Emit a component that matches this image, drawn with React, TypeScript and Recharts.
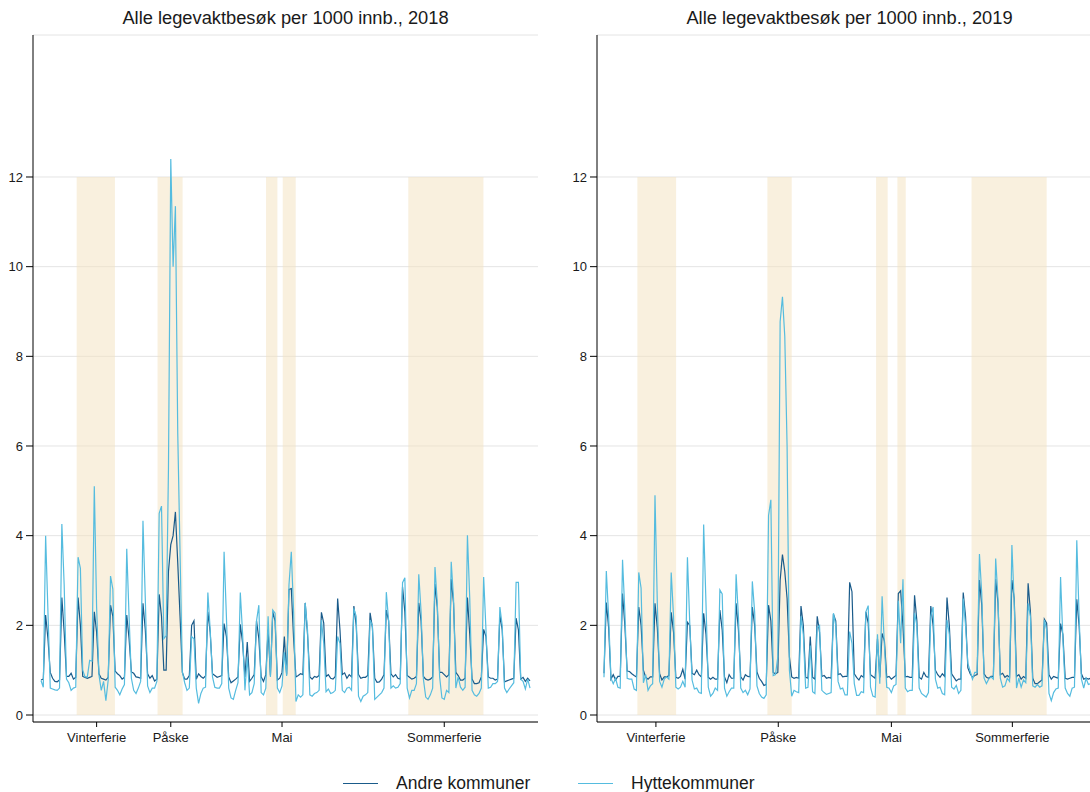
import React from 'react';
import { LineChart, Line, XAxis, YAxis, CartesianGrid, ReferenceArea } from 'recharts';

// Daily values, Feb 1 - Aug 31
const andre2018 = [
  0.78, 0.8, 2.23, 1.7, 0.95, 0.82, 0.75,
  0.74, 0.78, 2.62, 1.85, 0.86, 0.86, 0.93,
  0.8, 0.84, 2.62, 2.0, 0.86, 0.84, 0.82,
  0.84, 0.86, 2.3, 1.85, 0.92, 0.82, 0.8,
  0.78, 0.84, 2.45, 2.2, 0.98, 0.92, 0.88,
  0.8, 0.84, 2.23, 1.7, 0.96, 0.93, 0.85,
  0.84, 0.82, 2.49, 1.9, 0.92, 0.82, 0.88,
  0.76, 0.8, 2.69, 2.2, 1.0, 1.0, 3.2,
  3.8, 4.0, 4.53, 3.4, 2.2, 0.95, 0.8,
  0.8, 0.88, 2.0, 2.1, 0.8, 0.92, 0.86,
  0.82, 0.87, 2.3, 1.85, 0.92, 0.88, 0.84,
  0.86, 0.88, 2.04, 1.75, 0.85, 0.72, 0.76,
  0.8, 0.85, 2.02, 1.6, 0.85, 1.63, 0.75,
  0.82, 0.9, 2.1, 1.7, 0.85, 0.75, 0.9,
  1.9, 0.88, 2.3, 2.1, 0.78, 0.82, 0.95,
  1.75, 0.9, 2.8, 2.82, 1.7, 0.85, 0.88,
  0.92, 0.9, 2.5, 1.8, 0.85, 0.8, 0.86,
  0.84, 0.88, 2.29, 2.05, 0.86, 0.9, 0.82,
  0.8, 0.86, 2.6, 1.9, 0.9, 0.94, 0.82,
  0.9, 0.85, 2.43, 2.0, 0.9, 0.82, 0.84,
  0.84, 0.88, 2.28, 1.95, 0.82, 0.73, 0.74,
  0.8, 0.9, 2.34, 2.1, 0.92, 0.85, 0.9,
  0.82, 0.8, 2.86, 2.3, 0.88, 0.84, 0.8,
  0.82, 0.86, 2.5, 2.1, 0.86, 0.8, 0.78,
  0.8, 0.85, 2.92, 2.4, 0.95, 0.95, 0.9,
  0.85, 0.9, 3.03, 2.5, 0.95, 0.88, 0.78,
  0.78, 0.82, 2.62, 1.8, 0.8, 0.7, 0.7,
  0.72, 0.85, 1.91, 1.75, 0.85, 0.82, 0.82,
  0.78, 0.8, 2.23, 1.9, 0.74, 0.76, 0.78,
  0.8, 0.82, 2.16, 1.9, 0.8, 0.84, 0.75,
  0.82, 0.76,
];

const hytte2018 = [
  0.77, 0.62, 4.0, 2.3, 0.6, 0.58, 0.56,
  0.55, 0.6, 4.26, 2.9, 0.8, 0.72, 0.55,
  0.6, 0.62, 3.52, 3.27, 1.0, 0.85, 0.85,
  1.22, 1.2, 5.1, 2.4, 0.9, 0.55, 0.75,
  0.32, 0.78, 3.1, 2.81, 0.62, 0.55, 0.45,
  0.58, 0.68, 3.71, 2.2, 0.82, 0.55, 0.48,
  0.6, 0.75, 4.33, 2.6, 0.65, 0.5, 0.6,
  0.6, 0.75, 4.5, 4.66, 1.7, 1.77, 5.5,
  12.4, 10.0, 11.35, 6.3, 3.6, 0.96, 0.72,
  0.55, 0.6, 1.75, 1.7, 0.6, 0.26, 0.48,
  0.6, 0.62, 2.73, 1.9, 0.85, 0.62, 0.6,
  0.6, 0.7, 3.64, 2.2, 0.6, 0.38, 0.35,
  0.55, 0.72, 2.73, 1.8, 0.55, 1.3, 0.45,
  0.5, 0.7, 2.1, 2.45, 0.5, 0.45, 0.6,
  2.2, 0.85, 2.34, 2.27, 0.6, 0.5, 0.65,
  1.4, 0.87, 2.9, 3.64, 2.3, 0.3, 0.45,
  0.4, 0.45, 2.5, 1.9, 0.45, 0.42, 0.48,
  0.5, 0.55, 2.12, 1.6, 0.52, 0.58, 0.48,
  0.5, 0.55, 1.75, 1.6, 0.55, 0.5, 0.6,
  0.62, 0.55, 2.38, 2.2, 0.42, 0.3, 0.42,
  0.45, 0.5, 2.12, 2.0, 0.35, 0.4, 0.45,
  0.5, 0.6, 2.74, 2.1, 0.6, 0.65, 0.6,
  0.62, 0.7, 2.95, 3.06, 0.6, 0.38, 0.55,
  0.55, 0.7, 3.14, 2.3, 0.8, 0.4, 0.35,
  0.45, 0.6, 3.3, 2.5, 0.85, 0.38, 0.35,
  0.55, 0.5, 3.42, 2.6, 0.6, 0.85, 0.62,
  0.55, 0.62, 4.01, 2.6, 0.55, 0.45, 0.42,
  0.48, 0.6, 3.08, 1.9, 0.6, 0.62, 0.7,
  0.7, 0.75, 2.41, 2.0, 0.6, 0.5, 0.58,
  0.65, 0.72, 2.96, 2.96, 0.8, 0.75, 0.58,
  0.8, 0.6,
];

const andre2019 = [
  0.93, 2.51, 1.95, 0.8, 0.9, 0.78, 0.86,
  0.86, 2.71, 2.0, 0.98, 0.97, 0.92, 0.88,
  0.85, 2.41, 2.0, 1.0, 0.84, 0.8, 0.85,
  0.85, 2.49, 1.95, 0.92, 0.78, 0.85, 0.85,
  0.88, 2.29, 1.85, 0.84, 0.82, 0.86, 1.02,
  0.8, 2.07, 2.0, 0.93, 0.9, 1.0, 0.9,
  0.85, 2.27, 1.8, 0.84, 0.8, 0.84, 0.8,
  0.8, 2.34, 1.9, 0.85, 0.72, 0.9, 0.82,
  0.82, 2.49, 1.9, 0.85, 0.78, 0.9, 0.86,
  0.85, 2.41, 2.0, 0.96, 0.82, 0.75, 0.66,
  0.68, 2.45, 2.1, 0.95, 0.92, 0.95, 3.0,
  3.58, 3.2, 2.6, 1.3, 0.85, 0.82, 0.84,
  0.82, 2.43, 2.0, 0.84, 0.82, 1.75, 0.84,
  0.8, 2.2, 1.85, 0.86, 0.88, 0.82, 0.84,
  0.82, 2.25, 2.1, 0.9, 0.92, 0.85, 0.86,
  0.86, 2.96, 2.75, 0.92, 0.84, 0.78, 0.88,
  0.84, 2.3, 2.05, 0.9, 0.86, 0.82, 1.7,
  0.84, 1.82, 1.65, 0.84, 0.86, 0.8, 0.84,
  0.88, 2.71, 2.77, 2.0, 0.85, 0.86, 0.84,
  0.84, 2.67, 2.1, 0.84, 0.8, 0.95, 0.86,
  0.84, 2.43, 2.0, 1.0, 0.9, 0.84, 0.92,
  0.86, 2.62, 2.0, 0.92, 0.84, 0.76, 0.8,
  0.8, 2.73, 2.2, 1.05, 0.92, 0.84, 0.88,
  0.9, 3.01, 2.45, 0.92, 0.84, 0.82, 0.86,
  0.86, 3.03, 2.5, 0.9, 0.93, 0.84, 0.88,
  0.84, 3.01, 2.6, 0.86, 0.9, 0.8, 0.86,
  0.82, 2.94, 2.3, 0.82, 0.7, 0.7, 0.74,
  0.78, 2.14, 2.05, 0.9, 0.8, 0.86, 0.84,
  0.82, 2.04, 1.8, 0.82, 0.8, 0.82, 0.84,
  0.84, 2.58, 2.0, 0.92, 0.8, 0.82, 0.8,
  0.82, 2.3,
];

const hytte2019 = [
  0.84, 3.21, 2.2, 0.82, 0.7, 0.82, 0.62,
  0.6, 3.46, 2.3, 0.82, 0.8, 0.8, 0.58,
  0.55, 3.18, 2.83, 0.72, 0.9, 0.55, 0.65,
  0.7, 4.9, 2.5, 0.75, 0.62, 0.8, 0.85,
  0.8, 3.18, 2.2, 0.62, 0.58, 0.62, 0.75,
  0.62, 3.52, 2.05, 0.78, 0.58, 0.6, 0.5,
  0.48, 4.25, 2.5, 0.62, 0.42, 0.48, 0.6,
  0.55, 2.79, 2.7, 0.6, 0.42, 0.52, 0.6,
  0.6, 3.14, 2.2, 0.6, 0.5, 0.55, 0.45,
  0.58, 2.98, 2.3, 0.65, 0.48, 0.4, 0.37,
  0.45, 4.45, 4.8, 0.88, 0.9, 1.3, 8.77,
  9.33, 8.45, 6.0, 1.0, 0.42, 0.55, 0.52,
  0.5, 2.2, 1.8, 0.6, 0.62, 1.55, 0.52,
  0.48, 1.95, 2.0, 0.55, 0.5, 0.46, 0.48,
  0.5, 2.27, 2.0, 0.75, 0.58, 0.6, 0.45,
  0.45, 1.86, 1.6, 0.7, 0.44, 0.44, 0.52,
  0.5, 2.3, 2.44, 0.62, 0.42, 0.4, 1.8,
  0.7, 2.65, 1.55, 0.62, 0.6, 0.5, 0.65,
  0.68, 2.55, 1.6, 3.03, 0.6, 0.52, 0.55,
  0.55, 2.27, 2.0, 0.6, 0.48, 0.44, 0.4,
  0.5, 2.2, 2.41, 0.8, 0.6, 0.62, 0.48,
  0.45, 2.12, 1.8, 0.62, 0.58, 0.66, 0.48,
  0.55, 2.6, 2.0, 1.15, 0.98, 0.8, 0.95,
  0.95, 3.59, 2.7, 0.82, 0.7, 0.8, 0.85,
  0.8, 3.49, 2.6, 0.82, 0.62, 0.65, 0.82,
  0.75, 3.79, 2.5, 0.6, 0.82, 0.62, 0.78,
  0.72, 2.49, 2.2, 0.65, 0.62, 0.68, 0.62,
  0.65, 2.12, 1.9, 0.48, 0.32, 0.5, 0.58,
  0.6, 3.08, 1.7, 0.6, 0.48, 0.42, 0.6,
  0.62, 3.9, 2.2, 0.8, 0.6, 0.82, 0.68,
  0.7, 2.9,
];

// Holiday periods (day index from Feb 1)
const holidayStart2018 = [15.4, 50.3, 97.1, 104.3, 158.5];
const holidayEnd2018 = [31.9, 61.1, 102.0, 109.9, 190.9];
const holidayStart2019 = [14.4, 70.5, 117.4, 126.6, 158.6];
const holidayEnd2019 = [31.1, 81.0, 122.4, 130.2, 191.0];

const tickLabels = ['Vinterferie', 'Påske', 'Mai', 'Sommerferie'];
const tickDays2018 = [24, 56, 104, 174];
const tickDays2019 = [22.4, 75.2, 124, 176.2];

const yTicks = [0, 2, 4, 6, 8, 10, 12];

const seriesNames = ['Andre kommuner', 'Hyttekommuner'];
const DARK = '#1a5b8a';
const LIGHT = '#55bcdf';
const TEXT = '#1a1a1a';

function buildRows(a: number[], h: number[]) {
  return a.map((v, i) => ({ day: i, andre: v, hytte: h[i] }));
}

type PanelProps = {
  title: string;
  rows: { day: number; andre: number; hytte: number }[];
  starts: number[];
  ends: number[];
  ticks: number[];
  xDomain: [number, number];
  left: number;
  width: number;
  yAxisWidth: number;
  marginRight: number;
};

function Panel(p: PanelProps) {
  const plotLeft = p.left + p.yAxisWidth;
  const plotWidth = 505;
  return (
    <>
      <div
        style={{
          position: 'absolute',
          left: plotLeft,
          top: 7,
          width: plotWidth,
          textAlign: 'center',
          fontSize: 18.3,
          lineHeight: '22px',
          color: TEXT,
          whiteSpace: 'nowrap',
        }}
      >
        {p.title}
      </div>
      <div style={{ position: 'absolute', left: p.left, top: 0 }}>
        <LineChart
          width={p.width}
          height={760}
          data={p.rows}
          margin={{ top: 35, right: p.marginRight, bottom: 8, left: 0 }}
        >
          <CartesianGrid vertical={false} stroke="#e4e4e4" strokeWidth={1} />
          {p.starts.map((s, i) => (
            <ReferenceArea
              key={i}
              x1={s}
              x2={p.ends[i]}
              y1={0}
              y2={12}
              fill="#f4e2be"
              fillOpacity={0.5}
              stroke="none"
            />
          ))}
          <XAxis
            dataKey="day"
            type="number"
            domain={p.xDomain}
            allowDataOverflow
            ticks={p.ticks}
            interval={0}
            tickFormatter={(v: number) => tickLabels[p.ticks.indexOf(v)]}
            height={30}
            tickSize={5}
            tickMargin={6}
            axisLine={{ stroke: '#000', strokeWidth: 1 }}
            tickLine={{ stroke: '#000', strokeWidth: 1 }}
            tick={{ fill: TEXT, fontSize: 13 }}
          />
          <YAxis
            type="number"
            domain={[-0.156, 15.167]}
            allowDataOverflow
            ticks={yTicks}
            interval={0}
            width={p.yAxisWidth}
            tickSize={7}
            tickMargin={3}
            axisLine={{ stroke: '#000', strokeWidth: 1 }}
            tickLine={{ stroke: '#000', strokeWidth: 1 }}
            tick={{ fill: TEXT, fontSize: 13 }}
          />
          <Line
            type="linear"
            dataKey="andre"
            name={seriesNames[0]}
            stroke={DARK}
            strokeWidth={1.2}
            dot={false}
            isAnimationActive={false}
          />
          <Line
            type="linear"
            dataKey="hytte"
            name={seriesNames[1]}
            stroke={LIGHT}
            strokeWidth={1.2}
            dot={false}
            isAnimationActive={false}
          />
        </LineChart>
      </div>
    </>
  );
}

export default function App() {
  const rows2018 = buildRows(andre2018, hytte2018);
  const rows2019 = buildRows(andre2019, hytte2019);
  return (
    <div
      style={{
        position: 'fixed',
        left: 0,
        top: 0,
        width: 1090,
        height: 792,
        overflow: 'hidden',
        background: '#fff',
        fontFamily: '"Liberation Sans", Arial, Helvetica, sans-serif',
      }}
    >
      <Panel
        title="Alle legevaktbesøk per 1000 innb., 2018"
        rows={rows2018}
        starts={holidayStart2018}
        ends={holidayEnd2018}
        ticks={tickDays2018}
        xDomain={[-3.45, 214.45]}
        left={0}
        width={545}
        yAxisWidth={33}
        marginRight={7}
      />
      <Panel
        title="Alle legevaktbesøk per 1000 innb., 2019"
        rows={rows2019}
        starts={holidayStart2019}
        ends={holidayEnd2019}
        ticks={tickDays2019}
        xDomain={[-3.02, 214.88]}
        left={560}
        width={560}
        yAxisWidth={37}
        marginRight={18}
      />
      {/* Legend */}
      <div style={{ position: 'absolute', left: 343, top: 783, width: 35, height: 0, borderTop: `1.5px solid ${DARK}` }} />
      <div style={{ position: 'absolute', left: 396, top: 775, fontSize: 17.5, lineHeight: '17px', color: TEXT, whiteSpace: 'nowrap' }}>
        {seriesNames[0]}
      </div>
      <div style={{ position: 'absolute', left: 578, top: 783, width: 35, height: 0, borderTop: `1.5px solid ${LIGHT}` }} />
      <div style={{ position: 'absolute', left: 631, top: 775, fontSize: 17.5, lineHeight: '17px', color: TEXT, whiteSpace: 'nowrap' }}>
        {seriesNames[1]}
      </div>
    </div>
  );
}
